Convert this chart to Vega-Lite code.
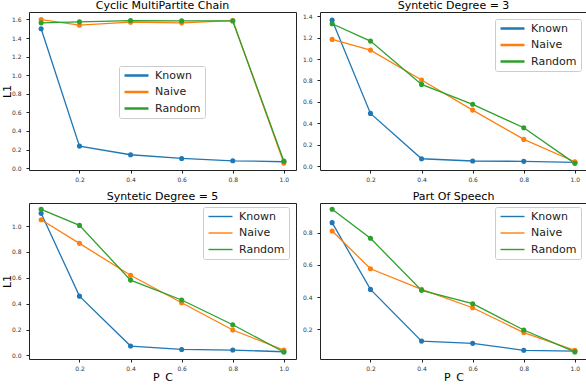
{
  "$schema": "https://vega.github.io/schema/vega-lite/v6.json",
  "padding": {"left": 0, "top": -1, "right": 0, "bottom": 0},
  "background": "white",
  "data": {
    "values": [
      {"panel": "TL", "method": "Known", "pc": 0.05, "l1": 1.499},
      {"panel": "TL", "method": "Known", "pc": 0.2, "l1": 0.237},
      {"panel": "TL", "method": "Known", "pc": 0.4, "l1": 0.144},
      {"panel": "TL", "method": "Known", "pc": 0.6, "l1": 0.104},
      {"panel": "TL", "method": "Known", "pc": 0.8, "l1": 0.079},
      {"panel": "TL", "method": "Known", "pc": 1.0, "l1": 0.069},
      {"panel": "TL", "method": "Naive", "pc": 0.05, "l1": 1.599},
      {"panel": "TL", "method": "Naive", "pc": 0.2, "l1": 1.538},
      {"panel": "TL", "method": "Naive", "pc": 0.4, "l1": 1.57},
      {"panel": "TL", "method": "Naive", "pc": 0.6, "l1": 1.563},
      {"panel": "TL", "method": "Naive", "pc": 0.8, "l1": 1.588},
      {"panel": "TL", "method": "Naive", "pc": 1.0, "l1": 0.054},
      {"panel": "TL", "method": "Random", "pc": 0.05, "l1": 1.563},
      {"panel": "TL", "method": "Random", "pc": 0.2, "l1": 1.574},
      {"panel": "TL", "method": "Random", "pc": 0.4, "l1": 1.588},
      {"panel": "TL", "method": "Random", "pc": 0.6, "l1": 1.584},
      {"panel": "TL", "method": "Random", "pc": 0.8, "l1": 1.584},
      {"panel": "TL", "method": "Random", "pc": 1.0, "l1": 0.075},
      {"panel": "TR", "method": "Known", "pc": 0.05, "l1": 1.364},
      {"panel": "TR", "method": "Known", "pc": 0.2, "l1": 0.492},
      {"panel": "TR", "method": "Known", "pc": 0.4, "l1": 0.068},
      {"panel": "TR", "method": "Known", "pc": 0.6, "l1": 0.047},
      {"panel": "TR", "method": "Known", "pc": 0.8, "l1": 0.044},
      {"panel": "TR", "method": "Known", "pc": 1.0, "l1": 0.034},
      {"panel": "TR", "method": "Naive", "pc": 0.05, "l1": 1.184},
      {"panel": "TR", "method": "Naive", "pc": 0.2, "l1": 1.084},
      {"panel": "TR", "method": "Naive", "pc": 0.4, "l1": 0.804},
      {"panel": "TR", "method": "Naive", "pc": 0.6, "l1": 0.523},
      {"panel": "TR", "method": "Naive", "pc": 0.8, "l1": 0.249},
      {"panel": "TR", "method": "Naive", "pc": 1.0, "l1": 0.04},
      {"panel": "TR", "method": "Random", "pc": 0.05, "l1": 1.33},
      {"panel": "TR", "method": "Random", "pc": 0.2, "l1": 1.168},
      {"panel": "TR", "method": "Random", "pc": 0.4, "l1": 0.763},
      {"panel": "TR", "method": "Random", "pc": 0.6, "l1": 0.577},
      {"panel": "TR", "method": "Random", "pc": 0.8, "l1": 0.358},
      {"panel": "TR", "method": "Random", "pc": 1.0, "l1": 0.025},
      {"panel": "BL", "method": "Known", "pc": 0.05, "l1": 1.098},
      {"panel": "BL", "method": "Known", "pc": 0.2, "l1": 0.458},
      {"panel": "BL", "method": "Known", "pc": 0.4, "l1": 0.072},
      {"panel": "BL", "method": "Known", "pc": 0.6, "l1": 0.046},
      {"panel": "BL", "method": "Known", "pc": 0.8, "l1": 0.041},
      {"panel": "BL", "method": "Known", "pc": 1.0, "l1": 0.028},
      {"panel": "BL", "method": "Naive", "pc": 0.05, "l1": 1.048},
      {"panel": "BL", "method": "Naive", "pc": 0.2, "l1": 0.866},
      {"panel": "BL", "method": "Naive", "pc": 0.4, "l1": 0.619},
      {"panel": "BL", "method": "Naive", "pc": 0.6, "l1": 0.407},
      {"panel": "BL", "method": "Naive", "pc": 0.8, "l1": 0.196},
      {"panel": "BL", "method": "Naive", "pc": 1.0, "l1": 0.041},
      {"panel": "BL", "method": "Random", "pc": 0.05, "l1": 1.129},
      {"panel": "BL", "method": "Random", "pc": 0.2, "l1": 1.005},
      {"panel": "BL", "method": "Random", "pc": 0.4, "l1": 0.582},
      {"panel": "BL", "method": "Random", "pc": 0.6, "l1": 0.428},
      {"panel": "BL", "method": "Random", "pc": 0.8, "l1": 0.237},
      {"panel": "BL", "method": "Random", "pc": 1.0, "l1": 0.026},
      {"panel": "BR", "method": "Known", "pc": 0.05, "l1": 0.862},
      {"panel": "BR", "method": "Known", "pc": 0.2, "l1": 0.448},
      {"panel": "BR", "method": "Known", "pc": 0.4, "l1": 0.127},
      {"panel": "BR", "method": "Known", "pc": 0.6, "l1": 0.113},
      {"panel": "BR", "method": "Known", "pc": 0.8, "l1": 0.07},
      {"panel": "BR", "method": "Known", "pc": 1.0, "l1": 0.065},
      {"panel": "BR", "method": "Naive", "pc": 0.05, "l1": 0.81},
      {"panel": "BR", "method": "Naive", "pc": 0.2, "l1": 0.576},
      {"panel": "BR", "method": "Naive", "pc": 0.4, "l1": 0.448},
      {"panel": "BR", "method": "Naive", "pc": 0.6, "l1": 0.334},
      {"panel": "BR", "method": "Naive", "pc": 0.8, "l1": 0.18},
      {"panel": "BR", "method": "Naive", "pc": 1.0, "l1": 0.07},
      {"panel": "BR", "method": "Random", "pc": 0.05, "l1": 0.945},
      {"panel": "BR", "method": "Random", "pc": 0.2, "l1": 0.765},
      {"panel": "BR", "method": "Random", "pc": 0.4, "l1": 0.442},
      {"panel": "BR", "method": "Random", "pc": 0.6, "l1": 0.359},
      {"panel": "BR", "method": "Random", "pc": 0.8, "l1": 0.196},
      {"panel": "BR", "method": "Random", "pc": 1.0, "l1": 0.06}
    ]
  },
  "vconcat": [
    {
      "hconcat": [
        {
          "title": "Cyclic MultiPartite Chain",
          "width": 267, "height": 158,
          "transform": [{"filter": "datum.panel == 'TL'"}],
          "mark": {"type": "line", "strokeWidth": 1.3, "point": {"filled": true, "size": 26}},
          "encoding": {
            "x": {"field": "pc", "type": "quantitative", "scale": {"domain": [0.0025, 1.0475], "nice": false, "zero": false},
                  "axis": {"values": [0.2, 0.4, 0.6, 0.8, 1.0], "format": ".1f", "title": null}},
            "y": {"field": "l1", "type": "quantitative", "scale": {"domain": [-0.02, 1.68], "nice": false, "zero": false},
                  "axis": {"values": [0, 0.2, 0.4, 0.6, 0.8, 1.0, 1.2, 1.4, 1.6], "format": ".1f", "title": "L1", "minExtent": 17, "maxExtent": 17}},
            "color": {"field": "method", "type": "nominal",
                      "scale": {"domain": ["Known", "Naive", "Random"], "range": ["#1f77b4", "#ff7f0e", "#2ca02c"]},
                      "legend": {"orient": "none", "legendX": 90, "legendY": 54, "title": null, "symbolStrokeWidth": 2.5}}
          }
        },
        {
          "title": "Syntetic Degree = 3",
          "width": 267, "height": 158,
          "transform": [{"filter": "datum.panel == 'TR'"}],
          "mark": {"type": "line", "strokeWidth": 1.3, "point": {"filled": true, "size": 26}},
          "encoding": {
            "x": {"field": "pc", "type": "quantitative", "scale": {"domain": [0.0025, 1.0475], "nice": false, "zero": false},
                  "axis": {"values": [0.2, 0.4, 0.6, 0.8, 1.0], "format": ".1f", "title": null}},
            "y": {"field": "l1", "type": "quantitative", "scale": {"domain": [-0.037, 1.44], "nice": false, "zero": false},
                  "axis": {"values": [0, 0.2, 0.4, 0.6, 0.8, 1.0, 1.2, 1.4], "format": ".1f", "title": null, "minExtent": 15, "maxExtent": 15}},
            "color": {"field": "method", "type": "nominal",
                      "scale": {"domain": ["Known", "Naive", "Random"], "range": ["#1f77b4", "#ff7f0e", "#2ca02c"]},
                      "legend": {"orient": "none", "legendX": 175, "legendY": 7, "title": null, "symbolStrokeWidth": 2.5}}
          }
        }
      ],
      "spacing": 4,
      "resolve": {"scale": {"x": "independent", "y": "independent", "color": "independent"}, "legend": {"color": "independent"}}
    },
    {
      "hconcat": [
        {
          "title": "Syntetic Degree = 5",
          "width": 267, "height": 156,
          "transform": [{"filter": "datum.panel == 'BL'"}],
          "mark": {"type": "line", "strokeWidth": 1.3, "point": {"filled": true, "size": 26}},
          "encoding": {
            "x": {"field": "pc", "type": "quantitative", "scale": {"domain": [0.0025, 1.0475], "nice": false, "zero": false},
                  "axis": {"values": [0.2, 0.4, 0.6, 0.8, 1.0], "format": ".1f", "title": "P_C"}},
            "y": {"field": "l1", "type": "quantitative", "scale": {"domain": [-0.028, 1.178], "nice": false, "zero": false},
                  "axis": {"values": [0, 0.2, 0.4, 0.6, 0.8, 1.0], "format": ".1f", "title": "L1", "minExtent": 17, "maxExtent": 17}},
            "color": {"field": "method", "type": "nominal",
                      "scale": {"domain": ["Known", "Naive", "Random"], "range": ["#1f77b4", "#ff7f0e", "#2ca02c"]},
                      "legend": {"orient": "none", "legendX": 174, "legendY": 4, "title": null, "symbolStrokeWidth": 1.4}}
          }
        },
        {
          "title": "Part Of Speech",
          "width": 267, "height": 156,
          "transform": [{"filter": "datum.panel == 'BR'"}],
          "mark": {"type": "line", "strokeWidth": 1.3, "point": {"filled": true, "size": 26}},
          "encoding": {
            "x": {"field": "pc", "type": "quantitative", "scale": {"domain": [0.0025, 1.0475], "nice": false, "zero": false},
                  "axis": {"values": [0.2, 0.4, 0.6, 0.8, 1.0], "format": ".1f", "title": "P_C"}},
            "y": {"field": "l1", "type": "quantitative", "scale": {"domain": [0.016, 0.984], "nice": false, "zero": false},
                  "axis": {"values": [0.2, 0.4, 0.6, 0.8], "format": ".1f", "title": null, "minExtent": 15, "maxExtent": 15}},
            "color": {"field": "method", "type": "nominal",
                      "scale": {"domain": ["Known", "Naive", "Random"], "range": ["#1f77b4", "#ff7f0e", "#2ca02c"]},
                      "legend": {"orient": "none", "legendX": 175, "legendY": 4, "title": null, "symbolStrokeWidth": 1.4}}
          }
        }
      ],
      "spacing": 4,
      "resolve": {"scale": {"x": "independent", "y": "independent", "color": "independent"}, "legend": {"color": "independent"}}
    }
  ],
  "spacing": 7,
  "resolve": {"scale": {"x": "independent", "y": "independent", "color": "independent"}, "legend": {"color": "independent"}},
  "config": {
    "font": "DejaVu Sans",
    "view": {"stroke": "#222222", "strokeWidth": 1},
    "axis": {"domain": false, "grid": false, "tickColor": "#222222", "tickSize": 3, "labelFontSize": 6, "labelColor": "#333333",
             "labelPadding": 3, "titleFontWeight": "normal", "titleFontSize": 11, "titleColor": "#000000", "titlePadding": 0},
    "axisY": {"labelPadding": 5},
    "title": {"fontSize": 11, "fontWeight": "normal", "offset": 1, "color": "#000000", "font": "DejaVu Sans"},
    "legend": {"symbolType": "M-3,0L3,0", "symbolSize": 64, "symbolOffset": 8, "labelOffset": 13, "labelFontSize": 11,
               "labelColor": "#222222", "padding": 4, "rowPadding": 4.5, "fillColor": "rgba(255,255,255,0.8)",
               "strokeColor": "#cccccc", "cornerRadius": 2}
  }
}
